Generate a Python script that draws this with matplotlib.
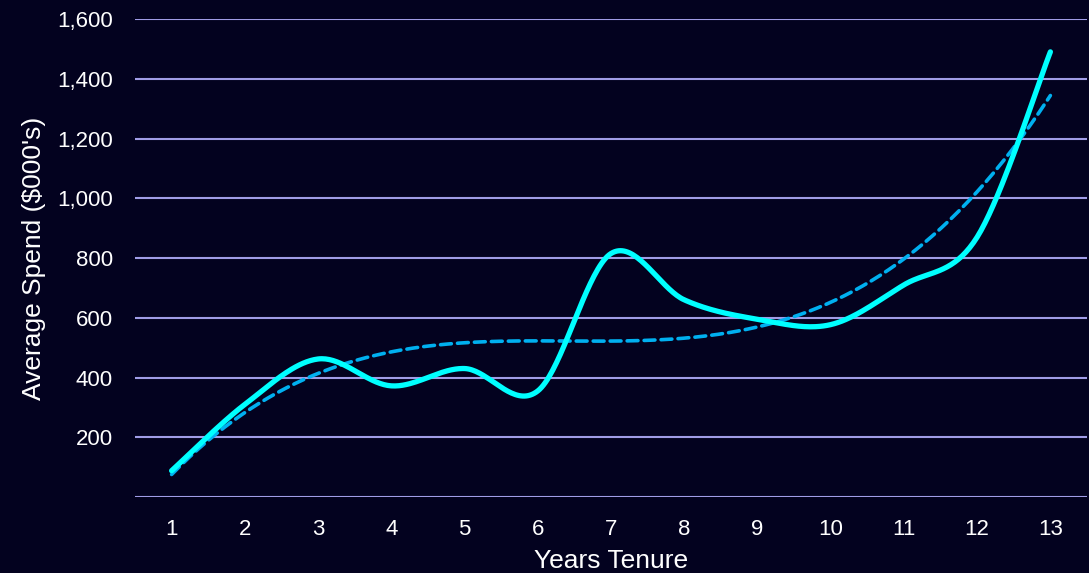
import numpy as np
import matplotlib
matplotlib.use("Agg")
import matplotlib.pyplot as plt
from matplotlib.ticker import FuncFormatter

years = [1, 2, 3, 4, 5, 6, 7, 8, 9, 10, 11, 12, 13]
avg_spend = [88, 310, 462, 372, 430, 355, 815, 660, 595, 577, 710, 870, 1490]

BG = "#03021f"
GRID = "#a09ce6"


def smooth(xs, ys, n=40):
    # cardinal spline through the points, bezier segments
    xs = np.asarray(xs, float)
    ys = np.asarray(ys, float)
    px = np.concatenate([[xs[0]], xs, [xs[-1]]])
    py = np.concatenate([[ys[0]], ys, [ys[-1]]])
    out_x, out_y = [], []
    t = np.linspace(0, 1, n)
    for i in range(1, len(px) - 2):
        p0 = np.array([px[i], py[i]])
        p3 = np.array([px[i + 1], py[i + 1]])
        c1 = p0 + (np.array([px[i + 1], py[i + 1]]) - np.array([px[i - 1], py[i - 1]])) / 6
        c2 = p3 - (np.array([px[i + 2], py[i + 2]]) - np.array([px[i], py[i]])) / 6
        b = ((1 - t) ** 3)[:, None] * p0 + (3 * (1 - t) ** 2 * t)[:, None] * c1 \
            + (3 * (1 - t) * t ** 2)[:, None] * c2 + (t ** 3)[:, None] * p3
        out_x.extend(b[:, 0])
        out_y.extend(b[:, 1])
    return np.array(out_x), np.array(out_y)


plt.rcParams["font.family"] = ["Liberation Sans", "DejaVu Sans"]

fig = plt.figure(figsize=(10.89, 5.73), dpi=100, facecolor=BG)
ax = fig.add_axes([135 / 1089, 1 - 497 / 573, 952 / 1089, 478 / 573])
ax.set_facecolor(BG)

ax.set_xlim(0.5, 13.5)
ax.set_ylim(0, 1600)
ax.set_yticks([0, 200, 400, 600, 800, 1000, 1200, 1400, 1600])
ax.yaxis.set_major_formatter(FuncFormatter(lambda v, p: "" if v == 0 else f"{int(v):,}"))
ax.set_xticks(years)
ax.grid(axis="y", color=GRID, linewidth=1.5)
ax.set_axisbelow(True)
for s in ax.spines.values():
    s.set_visible(False)
ax.tick_params(length=0, colors="white", labelsize=16)
ax.tick_params(axis="x", pad=16)
ax.tick_params(axis="y", pad=16)

# smoothed spend line
sx, sy = smooth(years, avg_spend)
ax.plot(sx, sy, color="#00ffff", linewidth=3.8, solid_capstyle="round", zorder=3)

# cubic trendline
xx = np.linspace(1, 13, 300)
coef = np.polyfit(years, avg_spend, 3)
ax.plot(xx, np.polyval(coef, xx), color="#00b0f0", linewidth=2.6,
        linestyle=(0, (3, 1.7)), dash_capstyle="round", zorder=2)

ax.set_xlabel("Years Tenure", color="white", fontsize=19, labelpad=6)
ax.set_ylabel("Average Spend ($000's)", color="white", fontsize=19, labelpad=8)

fig.savefig("out.png", dpi=100, facecolor=BG)
